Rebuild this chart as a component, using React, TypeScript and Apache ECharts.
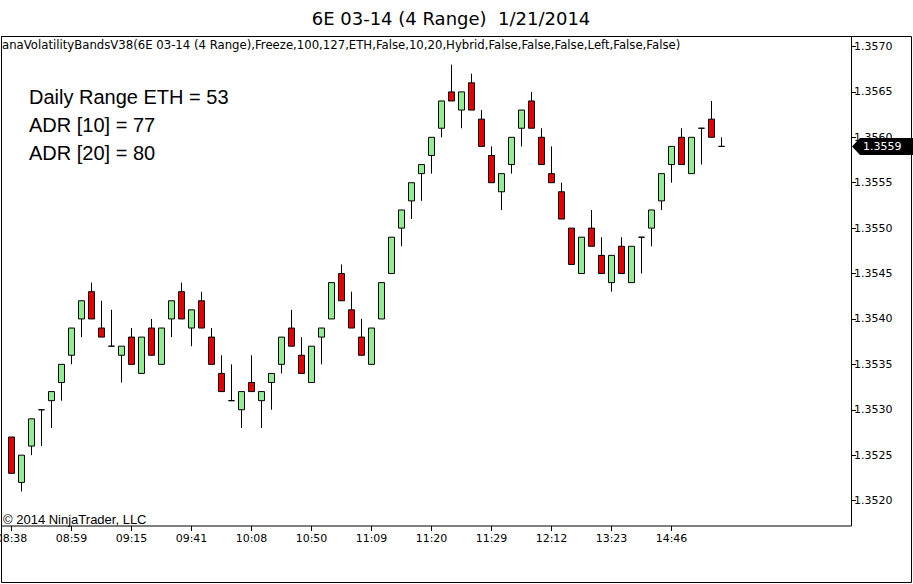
import React, { useEffect, useRef } from "react";
import * as echarts from "echarts";

const chartTitle = "6E 03-14 (4 Range)  1/21/2014";
const indicatorLabel =
  "anaVolatilityBandsV38(6E 03-14 (4 Range),Freeze,100,127,ETH,False,10,20,Hybrid,False,False,False,Left,False,False)";
const statLines = ["Daily Range ETH = 53", "ADR [10] = 77", "ADR [20] = 80"];
const copyright = "\u00a9 2014 NinjaTrader, LLC";

const timeLabels = ["08:38", "08:59", "09:15", "09:41", "10:08", "10:50", "11:09", "11:20", "11:29", "12:12", "13:23", "14:46"];
const priceLabels = ["1.3520", "1.3525", "1.3530", "1.3535", "1.3540", "1.3545", "1.3550", "1.3555", "1.3560", "1.3565", "1.3570"];

const opens = [
  1.3527, 1.3522, 1.3526, 1.3530, 1.3531, 1.3533, 1.3536, 1.3540, 1.3543, 1.3539,
  1.3537, 1.3536, 1.3538, 1.3534, 1.3539, 1.3535, 1.3540, 1.3543, 1.3539, 1.3542,
  1.3538, 1.3534, 1.3531, 1.3530, 1.3533, 1.3531, 1.3533, 1.3535, 1.3539, 1.3536,
  1.3533, 1.3538, 1.3540, 1.3545, 1.3541, 1.3538, 1.3535, 1.3540, 1.3545, 1.3550,
  1.3553, 1.3556, 1.3558, 1.3561, 1.3565, 1.3563, 1.3566, 1.3562, 1.3558, 1.3554,
  1.3557, 1.3561, 1.3564, 1.3560, 1.3556, 1.3554, 1.3550, 1.3545, 1.3550, 1.3547,
  1.3544, 1.3548, 1.3544, 1.3549, 1.3550, 1.3553, 1.3557, 1.3560, 1.3556, 1.3561,
  1.3562, 1.3559,
];
const highs = [
  1.3527, 1.3525, 1.3529, 1.3530, 1.3532, 1.3535, 1.3539, 1.3542, 1.3544, 1.3542,
  1.3541, 1.3537, 1.3539, 1.3538, 1.3540, 1.3539, 1.3542, 1.3544, 1.3541, 1.3543,
  1.3539, 1.3536, 1.3535, 1.3532, 1.3536, 1.3532, 1.3534, 1.3538, 1.3541, 1.3538,
  1.3537, 1.3539, 1.3544, 1.3546, 1.3543, 1.3540, 1.3539, 1.3544, 1.3549, 1.3552,
  1.3555, 1.3557, 1.3560, 1.3564, 1.3568, 1.3565, 1.3567, 1.3563, 1.3559, 1.3556,
  1.3560, 1.3563, 1.3565, 1.3561, 1.3559, 1.3555, 1.3550, 1.3549, 1.3552, 1.3549,
  1.3547, 1.3549, 1.3548, 1.3549, 1.3552, 1.3556, 1.3559, 1.3561, 1.3560, 1.3561,
  1.3564, 1.3560,
];
const lows = [
  1.3523, 1.3521, 1.3525, 1.3526, 1.3528, 1.3531, 1.3535, 1.3538, 1.3540, 1.3538,
  1.3537, 1.3533, 1.3535, 1.3534, 1.3536, 1.3535, 1.3538, 1.3540, 1.3537, 1.3539,
  1.3535, 1.3532, 1.3531, 1.3528, 1.3532, 1.3528, 1.3530, 1.3534, 1.3537, 1.3534,
  1.3533, 1.3535, 1.3540, 1.3542, 1.3539, 1.3536, 1.3535, 1.3540, 1.3545, 1.3548,
  1.3551, 1.3553, 1.3556, 1.3560, 1.3564, 1.3561, 1.3563, 1.3559, 1.3555, 1.3552,
  1.3556, 1.3559, 1.3561, 1.3557, 1.3555, 1.3551, 1.3546, 1.3545, 1.3548, 1.3545,
  1.3543, 1.3545, 1.3544, 1.3545, 1.3548, 1.3552, 1.3555, 1.3557, 1.3556, 1.3557,
  1.3560, 1.3559,
];
const closes = [
  1.3523, 1.3525, 1.3529, 1.3530, 1.3532, 1.3535, 1.3539, 1.3542, 1.3540, 1.3538,
  1.3537, 1.3537, 1.3535, 1.3538, 1.3536, 1.3539, 1.3542, 1.3540, 1.3541, 1.3539,
  1.3535, 1.3532, 1.3531, 1.3532, 1.3532, 1.3532, 1.3534, 1.3538, 1.3537, 1.3534,
  1.3537, 1.3539, 1.3544, 1.3542, 1.3539, 1.3536, 1.3539, 1.3544, 1.3549, 1.3552,
  1.3555, 1.3557, 1.3560, 1.3564, 1.3564, 1.3565, 1.3563, 1.3559, 1.3555, 1.3556,
  1.3560, 1.3563, 1.3561, 1.3557, 1.3555, 1.3551, 1.3546, 1.3549, 1.3548, 1.3545,
  1.3547, 1.3545, 1.3548, 1.3549, 1.3552, 1.3556, 1.3559, 1.3557, 1.3560, 1.3561,
  1.3560, 1.3559,
];

const AXIS_FONT = "DejaVu Sans";
const ARIAL = "Liberation Sans";

export default function App() {
  const ref = useRef<HTMLDivElement>(null);

  useEffect(() => {
    if (!ref.current) return;
    const chart = echarts.init(ref.current, null, { renderer: "svg" });
    const categories = opens.map((_, i) => String(i));
    const data = opens.map((o, i) => [o, closes[i], lows[i], highs[i]]);
    const priceValues = priceLabels.map((s) => Number(s));
    const labelEvery = 6;

    chart.setOption({
      animation: false,
      backgroundColor: "#ffffff",
      grid: {
        left: 6.5,
        top: 36.5,
        width: 720,
        height: 489.5,
        containLabel: false,
        outerBoundsMode: "none",
      },
      xAxis: {
        type: "category",
        data: categories,
        boundaryGap: true,
        axisLine: { show: false },
        axisTick: {
          show: true,
          length: 5,
          alignWithLabel: true,
          interval: (i: number) => i % labelEvery === 0,
          lineStyle: { color: "#000", width: 1 },
        },
        axisLabel: {
          interval: (i: number) => i % labelEvery === 0,
          formatter: (v: string) => {
            const n = Number(v);
            return n % labelEvery === 0 ? timeLabels[n / labelEvery] ?? "" : "";
          },
          color: "#000",
          fontFamily: AXIS_FONT,
          fontSize: 11,
          margin: 7,
          hideOverlap: false,
        },
        splitLine: { show: false },
      },
      yAxis: {
        type: "value",
        position: "right",
        offset: 124.5,
        min: 1.35172,
        max: 1.35711,
        axisLine: { show: false },
        axisTick: {
          show: true,
          length: 5,
          customValues: priceValues,
          lineStyle: { color: "#000", width: 1 },
        },
        axisLabel: {
          customValues: priceValues,
          formatter: (v: number) => v.toFixed(4),
          color: "#000",
          fontFamily: AXIS_FONT,
          fontSize: 11,
          margin: 3,
        },
        splitLine: { show: false },
      },
      series: [
        {
          type: "candlestick",
          data,
          barWidth: 6,
          itemStyle: {
            color: "#90ee90",
            color0: "#e60000",
            borderColor: "#000",
            borderColor0: "#000",
            borderColorDoji: "#000",
            borderWidth: 1,
          },
        },
      ],
    });

    const lastPrice = closes[closes.length - 1];
    const py = chart.convertToPixel({ yAxisIndex: 0 }, lastPrice) as number;

    chart.setOption({
      graphic: [
        {
          type: "rect",
          shape: { x: 1.5, y: 36.5, width: 910, height: 546 },
          style: { fill: "none", stroke: "#000", lineWidth: 1 },
          silent: true,
          z: 50,
        },
        {
          type: "rect",
          shape: { x: 1.5, y: 36.5, width: 850, height: 489.5 },
          style: { fill: "none", stroke: "#000", lineWidth: 1 },
          silent: true,
          z: 50,
        },
        {
          type: "text",
          x: 451,
          y: 18,
          style: {
            text: chartTitle,
            fill: "#000",
            font: `18px "${AXIS_FONT}"`,
            align: "center",
            verticalAlign: "middle",
          },
          z: 60,
        },
        {
          type: "text",
          x: 2,
          y: 45,
          style: {
            text: indicatorLabel,
            fill: "#000",
            font: `11.7px "${AXIS_FONT}"`,
            align: "left",
            verticalAlign: "middle",
          },
          z: 60,
        },
        ...statLines.map((t, i) => ({
          type: "text",
          x: 29,
          y: 96.5 + i * 28,
          style: {
            text: t,
            fill: "#000",
            font: `20px "${ARIAL}"`,
            align: "left",
            verticalAlign: "middle",
          },
          z: 60,
        })),
        {
          type: "text",
          x: 3,
          y: 519,
          style: {
            text: copyright,
            fill: "#000",
            font: `13px "${ARIAL}"`,
            align: "left",
            verticalAlign: "middle",
          },
          z: 60,
        },
        {
          type: "polygon",
          shape: {
            points: [
              [852, py],
              [860, py - 8.5],
              [913, py - 8.5],
              [913, py + 8.5],
              [860, py + 8.5],
            ],
          },
          style: { fill: "#000" },
          z: 100,
        },
        {
          type: "text",
          x: 863,
          y: py,
          style: {
            text: lastPrice.toFixed(4),
            fill: "#fff",
            font: `11px "${AXIS_FONT}"`,
            align: "left",
            verticalAlign: "middle",
          },
          z: 101,
        },
      ],
    });

    return () => chart.dispose();
  }, []);

  return (
    <div
      ref={ref}
      style={{ position: "absolute", left: 0, top: 0, width: 913, height: 584 }}
    />
  );
}
